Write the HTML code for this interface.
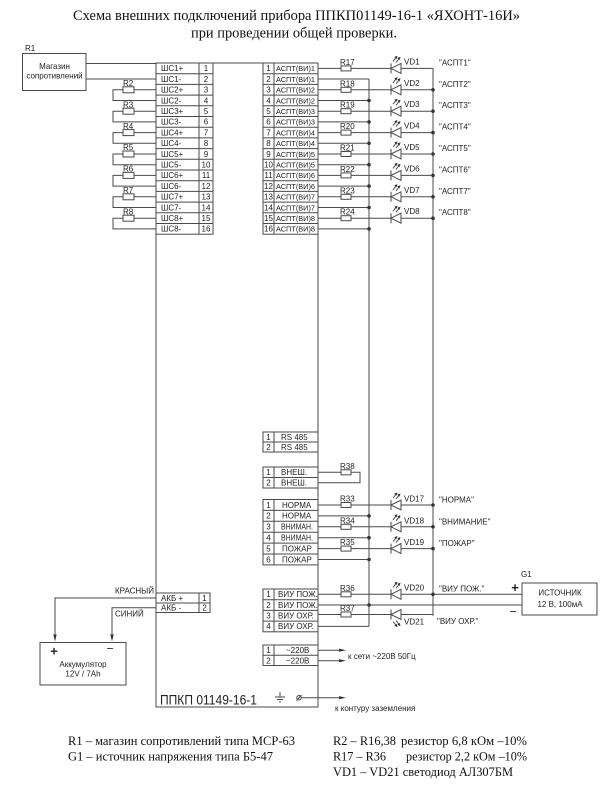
<!DOCTYPE html>
<html><head><meta charset="utf-8"><style>
html,body{margin:0;padding:0;background:#fff;}
svg{display:block;}
.l{stroke:#4a4a4a;stroke-width:1;fill:none;}
.w{stroke:#4a4a4a;stroke-width:1;fill:#fff;}
.t{font-family:"Liberation Sans",sans-serif;font-size:8px;fill:#222;}
.s{font-family:"Liberation Sans",sans-serif;font-size:7.5px;fill:#222;}
.n{font-family:"Liberation Sans",sans-serif;font-size:8px;fill:#222;text-anchor:middle;}
.sr{font-family:"Liberation Serif",serif;fill:#111;}
.d{fill:#333;}
</style></head><body>
<svg width="600" height="786" viewBox="0 0 600 786" xmlns="http://www.w3.org/2000/svg">
<defs>
<g id="led">
<path class="l" d="M0,-5V5"/>
<path class="w" d="M0,0L10,-5V5Z"/>
<path class="l" d="M2,-7L6,-12M5,-6L9,-11" stroke-width="0.8"/>
<path class="d" d="M6.5,-12.5l-3.2,1l2.2,2.2zM9.5,-11.5l-3.2,1l2.2,2.2z"/>
</g>
</defs>

<!-- Title -->
<text class="sr" x="73" y="20" font-size="15" textLength="447" lengthAdjust="spacingAndGlyphs">Схема внешних подключений прибора ППКП01149-16-1 «ЯХОНТ-16И»</text>
<text class="sr" x="191" y="37.5" font-size="15" textLength="206" lengthAdjust="spacingAndGlyphs">при проведении общей проверки.</text>

<!-- R1 box -->
<text class="t" x="25" y="51">R1</text>
<rect class="l" x="22.5" y="53.5" width="63.5" height="37"/>
<text class="n" x="54.5" y="69" font-size="7.5">Магазин</text>
<text class="n" x="54.5" y="78.5" font-size="7.5">сопротивлений</text>
<path class="l" d="M86,63.5H156M86,79H156"/>

<!-- Main box -->
<path class="l" d="M156,63H318V707H156Z"/>

<!-- ШС block -->
<rect class="w" x="156" y="63" width="57" height="171.2"/>
<path class="l" d="M199,63V234.2M156,73.7H213M156,84.4H213M156,95.1H213M156,105.8H213M156,116.5H213M156,127.2H213M156,137.9H213M156,148.6H213M156,159.3H213M156,170H213M156,180.7H213M156,191.4H213M156,202.1H213M156,212.8H213M156,223.5H213"/>
<text class="t" x="161" y="71.2">ШС1+</text><text class="n" x="206" y="71.2">1</text>
<text class="t" x="161" y="81.8">ШС1-</text><text class="n" x="206" y="81.8">2</text>
<text class="t" x="161" y="92.6">ШС2+</text><text class="n" x="206" y="92.6">3</text>
<text class="t" x="161" y="103.3">ШС2-</text><text class="n" x="206" y="103.3">4</text>
<text class="t" x="161" y="114">ШС3+</text><text class="n" x="206" y="114">5</text>
<text class="t" x="161" y="124.7">ШС3-</text><text class="n" x="206" y="124.7">6</text>
<text class="t" x="161" y="135.4">ШС4+</text><text class="n" x="206" y="135.4">7</text>
<text class="t" x="161" y="146.1">ШС4-</text><text class="n" x="206" y="146.1">8</text>
<text class="t" x="161" y="156.8">ШС5+</text><text class="n" x="206" y="156.8">9</text>
<text class="t" x="161" y="167.5">ШС5-</text><text class="n" x="206" y="167.5">10</text>
<text class="t" x="161" y="178.2">ШС6+</text><text class="n" x="206" y="178.2">11</text>
<text class="t" x="161" y="188.9">ШС6-</text><text class="n" x="206" y="188.9">12</text>
<text class="t" x="161" y="199.6">ШС7+</text><text class="n" x="206" y="199.6">13</text>
<text class="t" x="161" y="210.3">ШС7-</text><text class="n" x="206" y="210.3">14</text>
<text class="t" x="161" y="221">ШС8+</text><text class="n" x="206" y="221">15</text>
<text class="t" x="161" y="231.7">ШС8-</text><text class="n" x="206" y="231.7">16</text>

<!-- ШС resistor loops -->
<path class="l" d="M156,89.8H134M123,89.8H113V100.5H156
M156,111.2H134M123,111.2H113V121.9H156
M156,132.6H134M123,132.6H113V143.3H156
M156,154H134M123,154H113V164.7H156
M156,175.4H134M123,175.4H113V186.1H156
M156,196.8H134M123,196.8H113V207.5H156
M156,218.2H134M123,218.2H113V228.9H156"/>
<rect class="w" x="123" y="86.8" width="11" height="6"/>
<rect class="w" x="123" y="108.2" width="11" height="6"/>
<rect class="w" x="123" y="129.6" width="11" height="6"/>
<rect class="w" x="123" y="151" width="11" height="6"/>
<rect class="w" x="123" y="172.4" width="11" height="6"/>
<rect class="w" x="123" y="193.8" width="11" height="6"/>
<rect class="w" x="123" y="215.2" width="11" height="6"/>
<text class="t" x="123" y="86">R2</text>
<text class="t" x="123" y="107.4">R3</text>
<text class="t" x="123" y="128.8">R4</text>
<text class="t" x="123" y="150.2">R5</text>
<text class="t" x="123" y="171.6">R6</text>
<text class="t" x="123" y="193">R7</text>
<text class="t" x="123" y="214.4">R8</text>

<!-- Buses -->
<path class="l" d="M369,79V626.4M433,68.4V615.7"/>

<!-- АСПТ block -->
<rect class="w" x="263" y="63" width="55" height="171.2"/>
<path class="l" d="M274,63V234.2M263,73.7H318M263,84.4H318M263,95.1H318M263,105.8H318M263,116.5H318M263,127.2H318M263,137.9H318M263,148.6H318M263,159.3H318M263,170H318M263,180.7H318M263,191.4H318M263,202.1H318M263,212.8H318M263,223.5H318"/>
<g class="s">
<text x="276" y="71.2" textLength="39" lengthAdjust="spacingAndGlyphs">АСПТ(ВИ)1</text>
<text x="276" y="81.8" textLength="39" lengthAdjust="spacingAndGlyphs">АСПТ(ВИ)1</text>
<text x="276" y="92.6" textLength="39" lengthAdjust="spacingAndGlyphs">АСПТ(ВИ)2</text>
<text x="276" y="103.3" textLength="39" lengthAdjust="spacingAndGlyphs">АСПТ(ВИ)2</text>
<text x="276" y="114" textLength="39" lengthAdjust="spacingAndGlyphs">АСПТ(ВИ)3</text>
<text x="276" y="124.7" textLength="39" lengthAdjust="spacingAndGlyphs">АСПТ(ВИ)3</text>
<text x="276" y="135.4" textLength="39" lengthAdjust="spacingAndGlyphs">АСПТ(ВИ)4</text>
<text x="276" y="146.1" textLength="39" lengthAdjust="spacingAndGlyphs">АСПТ(ВИ)4</text>
<text x="276" y="156.8" textLength="39" lengthAdjust="spacingAndGlyphs">АСПТ(ВИ)5</text>
<text x="276" y="167.5" textLength="39" lengthAdjust="spacingAndGlyphs">АСПТ(ВИ)5</text>
<text x="276" y="178.2" textLength="39" lengthAdjust="spacingAndGlyphs">АСПТ(ВИ)6</text>
<text x="276" y="188.9" textLength="39" lengthAdjust="spacingAndGlyphs">АСПТ(ВИ)6</text>
<text x="276" y="199.6" textLength="39" lengthAdjust="spacingAndGlyphs">АСПТ(ВИ)7</text>
<text x="276" y="210.3" textLength="39" lengthAdjust="spacingAndGlyphs">АСПТ(ВИ)7</text>
<text x="276" y="221" textLength="39" lengthAdjust="spacingAndGlyphs">АСПТ(ВИ)8</text>
<text x="276" y="231.7" textLength="39" lengthAdjust="spacingAndGlyphs">АСПТ(ВИ)8</text>
</g>
<text class="n" x="268.5" y="71.2">1</text>
<text class="n" x="268.5" y="81.8">2</text>
<text class="n" x="268.5" y="92.6">3</text>
<text class="n" x="268.5" y="103.3">4</text>
<text class="n" x="268.5" y="114">5</text>
<text class="n" x="268.5" y="124.7">6</text>
<text class="n" x="268.5" y="135.4">7</text>
<text class="n" x="268.5" y="146.1">8</text>
<text class="n" x="268.5" y="156.8">9</text>
<text class="n" x="268.5" y="167.5" font-size="7.5">10</text>
<text class="n" x="268.5" y="178.2" font-size="7.5">11</text>
<text class="n" x="268.5" y="188.9" font-size="7.5">12</text>
<text class="n" x="268.5" y="199.6" font-size="7.5">13</text>
<text class="n" x="268.5" y="210.3" font-size="7.5">14</text>
<text class="n" x="268.5" y="221" font-size="7.5">15</text>
<text class="n" x="268.5" y="231.7" font-size="7.5">16</text>

<!-- АСПТ wiring -->
<path class="l" d="M318,68.4H341M351,68.4H391M401,68.4H433
M318,89.8H341M351,89.8H391M401,89.8H433
M318,111.2H341M351,111.2H391M401,111.2H433
M318,132.6H341M351,132.6H391M401,132.6H433
M318,154H341M351,154H391M401,154H433
M318,175.4H341M351,175.4H391M401,175.4H433
M318,196.8H341M351,196.8H391M401,196.8H433
M318,218.2H341M351,218.2H391M401,218.2H433
M318,79H369M318,100.5H369M318,121.9H369M318,143.3H369M318,164.7H369M318,186.1H369M318,207.5H369M318,228.9H369"/>
<rect class="w" x="341" y="65.9" width="10" height="5"/>
<rect class="w" x="341" y="87.3" width="10" height="5"/>
<rect class="w" x="341" y="108.7" width="10" height="5"/>
<rect class="w" x="341" y="130.1" width="10" height="5"/>
<rect class="w" x="341" y="151.5" width="10" height="5"/>
<rect class="w" x="341" y="172.9" width="10" height="5"/>
<rect class="w" x="341" y="194.3" width="10" height="5"/>
<rect class="w" x="341" y="215.7" width="10" height="5"/>
<text class="t" x="340" y="64.9">R17</text>
<text class="t" x="340" y="86.3">R18</text>
<text class="t" x="340" y="107.7">R19</text>
<text class="t" x="340" y="129.1">R20</text>
<text class="t" x="340" y="150.5">R21</text>
<text class="t" x="340" y="171.9">R22</text>
<text class="t" x="340" y="193.3">R23</text>
<text class="t" x="340" y="214.7">R24</text>
<use href="#led" x="391" y="68.4"/>
<use href="#led" x="391" y="89.8"/>
<use href="#led" x="391" y="111.2"/>
<use href="#led" x="391" y="132.6"/>
<use href="#led" x="391" y="154"/>
<use href="#led" x="391" y="175.4"/>
<use href="#led" x="391" y="196.8"/>
<use href="#led" x="391" y="218.2"/>
<text class="t" x="404" y="64.4">VD1</text>
<text class="t" x="404" y="85.8">VD2</text>
<text class="t" x="404" y="107.2">VD3</text>
<text class="t" x="404" y="128.6">VD4</text>
<text class="t" x="404" y="150">VD5</text>
<text class="t" x="404" y="171.4">VD6</text>
<text class="t" x="404" y="192.8">VD7</text>
<text class="t" x="404" y="214.2">VD8</text>
<text class="t" x="439" y="65.4">"АСПТ1"</text>
<text class="t" x="439" y="86.8">"АСПТ2"</text>
<text class="t" x="439" y="108.2">"АСПТ3"</text>
<text class="t" x="439" y="129.6">"АСПТ4"</text>
<text class="t" x="439" y="151">"АСПТ5"</text>
<text class="t" x="439" y="172.4">"АСПТ6"</text>
<text class="t" x="439" y="193.8">"АСПТ7"</text>
<text class="t" x="439" y="215.2">"АСПТ8"</text>
<g class="d">
<circle cx="369" cy="100.5" r="1.8"/><circle cx="369" cy="121.9" r="1.8"/><circle cx="369" cy="143.3" r="1.8"/><circle cx="369" cy="164.7" r="1.8"/><circle cx="369" cy="186.1" r="1.8"/><circle cx="369" cy="207.5" r="1.8"/><circle cx="369" cy="228.9" r="1.8"/>
<circle cx="433" cy="89.8" r="1.8"/><circle cx="433" cy="111.2" r="1.8"/><circle cx="433" cy="132.6" r="1.8"/><circle cx="433" cy="154" r="1.8"/><circle cx="433" cy="175.4" r="1.8"/><circle cx="433" cy="196.8" r="1.8"/><circle cx="433" cy="218.2" r="1.8"/>
</g>

<!-- RS485 -->
<rect class="w" x="263" y="432" width="55" height="20"/>
<path class="l" d="M274,432V452M263,442H318"/>
<text class="n" x="268.5" y="440">1</text><text class="t" x="281" y="440">RS 485</text>
<text class="n" x="268.5" y="450">2</text><text class="t" x="281" y="450">RS 485</text>

<!-- ВНЕШ -->
<rect class="w" x="263" y="467" width="55" height="21"/>
<path class="l" d="M274,467V488M263,477.5H318"/>
<text class="n" x="268.5" y="475.2">1</text><text class="t" x="281" y="475.2">ВНЕШ.</text>
<text class="n" x="268.5" y="485.6">2</text><text class="t" x="281" y="485.6">ВНЕШ.</text>
<path class="l" d="M318,472.3H341M351,472.3H360V482.8H318"/>
<rect class="w" x="341" y="469.8" width="10" height="5"/>
<text class="t" x="340" y="468.8">R38</text>

<!-- НОРМА block -->
<rect class="w" x="263" y="499.5" width="55" height="65.4"/>
<path class="l" d="M274,499.5V564.9M263,510.4H318M263,521.3H318M263,532.2H318M263,543.1H318M263,554H318"/>
<text class="n" x="268.5" y="507.8">1</text><text class="t" x="282" y="507.8">НОРМА</text>
<text class="n" x="268.5" y="518.7">2</text><text class="t" x="282" y="518.7">НОРМА</text>
<text class="n" x="268.5" y="529.6">3</text><text class="t" x="281" y="529.6" textLength="32" lengthAdjust="spacingAndGlyphs">ВНИМАН.</text>
<text class="n" x="268.5" y="540.5">4</text><text class="t" x="281" y="540.5" textLength="32" lengthAdjust="spacingAndGlyphs">ВНИМАН.</text>
<text class="n" x="268.5" y="551.4">5</text><text class="t" x="282" y="551.4">ПОЖАР</text>
<text class="n" x="268.5" y="562.3">6</text><text class="t" x="282" y="562.3">ПОЖАР</text>
<path class="l" d="M318,505H341M351,505H391M401,505H433
M318,526.8H341M351,526.8H391M401,526.8H433
M318,548.6H341M351,548.6H391M401,548.6H433
M318,515.9H369M318,537.7H369M318,559.5H369"/>
<rect class="w" x="341" y="502.5" width="10" height="5"/>
<rect class="w" x="341" y="524.3" width="10" height="5"/>
<rect class="w" x="341" y="546.1" width="10" height="5"/>
<text class="t" x="340" y="501.5">R33</text>
<text class="t" x="340" y="523.3">R34</text>
<text class="t" x="340" y="545.1">R35</text>
<use href="#led" x="391" y="505"/>
<use href="#led" x="391" y="526.8"/>
<use href="#led" x="391" y="548.6"/>
<text class="t" x="404" y="501.5">VD17</text>
<text class="t" x="404" y="523.3">VD18</text>
<text class="t" x="404" y="545.1">VD19</text>
<text class="t" x="439" y="502.5">"НОРМА"</text>
<text class="t" x="439" y="524.3">"ВНИМАНИЕ"</text>
<text class="t" x="439" y="546.1">"ПОЖАР"</text>
<g class="d">
<circle cx="369" cy="515.9" r="1.8"/><circle cx="369" cy="537.7" r="1.8"/><circle cx="369" cy="559.5" r="1.8"/>
<circle cx="433" cy="505" r="1.8"/><circle cx="433" cy="526.8" r="1.8"/><circle cx="433" cy="548.6" r="1.8"/>
</g>

<!-- ВИУ block -->
<rect class="w" x="263" y="589" width="55" height="42.8"/>
<path class="l" d="M274,589V631.8M263,599.7H318M263,610.4H318M263,621.1H318"/>
<text class="n" x="268.5" y="597.1">1</text><text class="t" x="278" y="597.1">ВИУ ПОЖ.</text>
<text class="n" x="268.5" y="607.8">2</text><text class="t" x="278" y="607.8">ВИУ ПОЖ.</text>
<text class="n" x="268.5" y="618.5">3</text><text class="t" x="278" y="618.5">ВИУ ОХР.</text>
<text class="n" x="268.5" y="629.2">4</text><text class="t" x="278" y="629.2">ВИУ ОХР.</text>
<path class="l" d="M318,594.3H341M351,594.3H391M401,594.3H522
M318,605H522
M318,614.5H341M351,614.5H391M401,614.5H433V594.3
M318,626.4H369"/>
<rect class="w" x="341" y="591.8" width="10" height="5"/>
<rect class="w" x="341" y="612" width="10" height="5"/>
<text class="t" x="340" y="590.8">R36</text>
<text class="t" x="340" y="611">R37</text>
<use href="#led" x="391" y="594.3"/>
<use href="#led" transform="translate(391,614.5) scale(1,-1)"/>
<text class="t" x="404" y="590.5">VD20</text>
<text class="t" x="404" y="624.5">VD21</text>
<text class="t" x="439" y="591.5">"ВИУ ПОЖ."</text>
<text class="t" x="437" y="624">"ВИУ ОХР."</text>
<g class="d"><circle cx="433" cy="594.3" r="1.8"/><circle cx="369" cy="605" r="1.8"/></g>

<!-- G1 -->
<text class="t" x="521" y="577">G1</text>
<rect class="l" x="522" y="583" width="75" height="32"/>
<text class="n" x="560" y="595.5" font-size="7.5">ИСТОЧНИК</text>
<text class="n" x="560" y="607" font-size="7.5">12 В, 100мА</text>
<text x="515" y="592" font-family="Liberation Sans,sans-serif" font-size="13" font-weight="bold" text-anchor="middle" fill="#222">+</text>
<text x="513" y="615.5" font-family="Liberation Sans,sans-serif" font-size="12" text-anchor="middle" fill="#222">−</text>

<!-- 220V -->
<rect class="w" x="263" y="645" width="55" height="20.5"/>
<path class="l" d="M274,645V665.5M263,655.3H318"/>
<text class="n" x="268.5" y="653">1</text><text class="t" x="286" y="653">~220В</text>
<text class="n" x="268.5" y="663.3">2</text><text class="t" x="286" y="663.3">~220В</text>
<path class="l" d="M318,650.2H340M318,660.7H340"/>
<path class="d" d="M346,650.2l-7,-1.6v3.2zM346,660.7l-7,-1.6v3.2z"/>
<text class="t" x="348" y="659" font-size="7.5">к сети ~220В 50Гц</text>

<!-- bottom of device -->
<text x="160" y="704.5" font-family="Liberation Sans,sans-serif" font-size="14" fill="#222" textLength="97" lengthAdjust="spacingAndGlyphs">ППКП 01149-16-1</text>
<path class="l" d="M280,692V697M275,697H285M277,699.5H283M279,702H281" stroke-width="0.9"/>
<circle class="l" cx="299" cy="697.7" r="2.2" stroke-width="0.8"/>
<path class="l" d="M296.5,700.5L301.5,695M301.2,697.7H340"/>
<path class="d" d="M346,697.7l-7,-1.6v3.2z"/>
<text class="t" x="335" y="711" font-size="7.5">к контуру заземления</text>

<!-- АКБ -->
<rect class="w" x="156" y="593" width="54" height="19.5"/>
<path class="l" d="M199,593V612.5M156,603H210"/>
<text class="t" x="161" y="600.8">АКБ +</text><text class="n" x="204.5" y="600.8">1</text>
<text class="t" x="161" y="610.5">АКБ  -</text><text class="n" x="204.5" y="610.5">2</text>
<path class="l" d="M156,598H55V636M156,607.7H112V636"/>
<path class="d" d="M55,641.5l-1.7,-7h3.4zM112,641.5l-1.7,-7h3.4z"/>
<text class="t" x="115" y="593.5">КРАСНЫЙ</text>
<text class="t" x="115" y="616.5">СИНИЙ</text>
<rect class="l" x="40" y="642.5" width="86" height="42.5"/>
<text x="54" y="655.5" font-family="Liberation Sans,sans-serif" font-size="13" font-weight="bold" text-anchor="middle" fill="#222">+</text>
<text x="110" y="652.5" font-family="Liberation Sans,sans-serif" font-size="12" text-anchor="middle" fill="#222">−</text>
<text class="n" x="83" y="667" font-size="7.5">Аккумулятор</text>
<text class="n" x="83" y="676.5" font-size="7.5">12V / 7Ah</text>

<!-- Legend -->
<text class="sr" x="68" y="745" font-size="13" textLength="227" lengthAdjust="spacingAndGlyphs">R1 – магазин сопротивлений типа МСР-63</text>
<text class="sr" x="68" y="760.5" font-size="13" textLength="205" lengthAdjust="spacingAndGlyphs">G1 – источник напряжения типа Б5-47</text>
<text class="sr" x="333" y="745" font-size="13" textLength="63" lengthAdjust="spacingAndGlyphs">R2 – R16,38</text>
<text class="sr" x="401" y="745" font-size="13" textLength="126" lengthAdjust="spacingAndGlyphs">резистор 6,8 кОм –10%</text>
<text class="sr" x="333" y="760.5" font-size="13" textLength="53" lengthAdjust="spacingAndGlyphs">R17 – R36</text>
<text class="sr" x="406" y="760.5" font-size="13" textLength="121" lengthAdjust="spacingAndGlyphs">резистор 2,2 кОм –10%</text>
<text class="sr" x="333" y="776" font-size="13" textLength="180" lengthAdjust="spacingAndGlyphs">VD1 – VD21 светодиод АЛ307БМ</text>
</svg>
</body></html>
